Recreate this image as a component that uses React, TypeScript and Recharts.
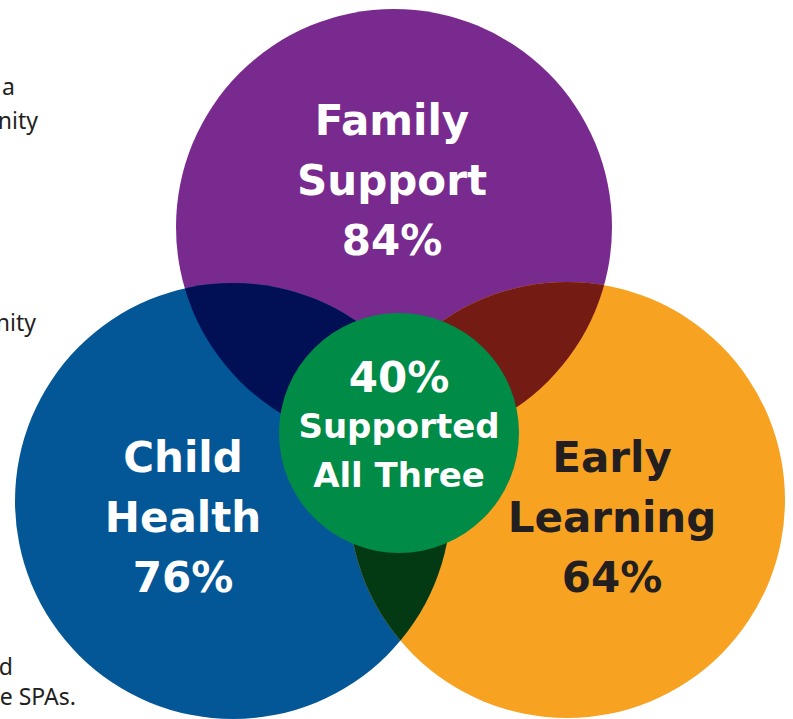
import React from 'react';
import { ScatterChart, Scatter, XAxis, YAxis } from 'recharts';

const W = 793;
const H = 719;

// Data
const categories = ['Family Support', 'Child Health', 'Early Learning'];
const shares = [84, 76, 64];
const allThreeShare = 40;
const allThreeLabel = ['Supported', 'All Three'];

// Venn layout (in chart units)
const circleX = [394, 233, 567];
const circleY = [227, 501, 500];
const circleR = [218, 218, 218];
const coreX = 399;
const coreY = 433;
const coreR = 120;
const labelX = [392, 183, 612];
const labelY = [195, 532, 532];

// Side text fragments from the surrounding page
const sideText = ['a', 'nity', 'nity', 'd', 'e SPAs.'];
const sideTextX = [15, 38, 36, 13, 76];
const sideTextY = [95, 129, 331, 675, 705];

// Styles
const colors = ['#782a8f', '#045796', '#f8a222'];
const textColors = ['#ffffff', '#ffffff', '#231f20'];
const overlapPairs = [[0, 1], [0, 2], [1, 2]];
const overlapColors = ['#010f55', '#741b13', '#033a14'];
const coreColor = '#008b47';
const FONT = '"DejaVu Sans", sans-serif';

const setData = categories.map((name, i) => ({ x: circleX[i], y: circleY[i], r: circleR[i], id: i, name, fill: colors[i] }));
const overlapData = overlapPairs.map(([a, b], k) => ({ x: circleX[b], y: circleY[b], r: circleR[b], clip: a, fill: overlapColors[k] }));
const coreData = [{ x: coreX, y: coreY, r: coreR, fill: coreColor }];
const labelData = categories.map((name, i) => ({ x: labelX[i], y: labelY[i], lines: [...name.split(' '), `${shares[i]}%`], color: textColors[i] }));
const coreLabelData = [{ x: coreX, y: coreY, lines: [`${allThreeShare}%`, ...allThreeLabel] }];
const sideData = sideText.map((t, i) => ({ x: sideTextX[i], y: sideTextY[i], t }));

const SetShape = (props: any) => {
  const { cx, cy, payload } = props;
  return (
    <g>
      <defs>
        <clipPath id={`venn-clip-${payload.id}`}>
          <circle cx={cx} cy={cy} r={payload.r} />
        </clipPath>
      </defs>
      <circle cx={cx} cy={cy} r={payload.r} fill={payload.fill} />
    </g>
  );
};

const OverlapShape = (props: any) => {
  const { cx, cy, payload } = props;
  return <circle cx={cx} cy={cy} r={payload.r} fill={payload.fill} clipPath={`url(#venn-clip-${payload.clip})`} />;
};

const CoreShape = (props: any) => {
  const { cx, cy, payload } = props;
  return <circle cx={cx} cy={cy} r={payload.r} fill={payload.fill} />;
};

const LabelShape = (props: any) => {
  const { cx, cy, payload } = props;
  return (
    <g>
      {payload.lines.map((ln: string, j: number) => (
        <text key={j} x={cx} y={cy + (j - 1) * 60} textAnchor="middle" fill={payload.color}
          fontFamily={FONT} fontWeight={700} fontSize={42}>{ln}</text>
      ))}
    </g>
  );
};

const CoreLabelShape = (props: any) => {
  const { cx, cy, payload } = props;
  const dy = [-41, 5, 54];
  const fs = [42, 34, 34];
  return (
    <g>
      {payload.lines.map((ln: string, j: number) => (
        <text key={j} x={cx} y={cy + dy[j]} textAnchor="middle" fill="#ffffff"
          fontFamily={FONT} fontWeight={700} fontSize={fs[j]}>{ln}</text>
      ))}
    </g>
  );
};

const SideShape = (props: any) => {
  const { cx, cy, payload } = props;
  return (
    <text x={cx} y={cy} textAnchor="end" fill="#231f20" fontFamily='"Noto Sans", sans-serif' fontSize={23}>{payload.t}</text>
  );
};

export default function App() {
  return (
    <div style={{ position: 'absolute', left: 0, top: 0, width: W, height: H, background: '#ffffff' }}>
      <ScatterChart width={W} height={H} margin={{ top: 0, right: 0, bottom: 0, left: 0 }}>
        <XAxis type="number" dataKey="x" domain={[0, W]} hide allowDataOverflow />
        <YAxis type="number" dataKey="y" domain={[0, H]} reversed hide allowDataOverflow />
        <Scatter data={sideData} shape={SideShape} isAnimationActive={false} />
        <Scatter data={setData} shape={SetShape} isAnimationActive={false} />
        <Scatter data={overlapData} shape={OverlapShape} isAnimationActive={false} />
        <Scatter data={coreData} shape={CoreShape} isAnimationActive={false} />
        <Scatter data={labelData} shape={LabelShape} isAnimationActive={false} />
        <Scatter data={coreLabelData} shape={CoreLabelShape} isAnimationActive={false} />
      </ScatterChart>
    </div>
  );
}
